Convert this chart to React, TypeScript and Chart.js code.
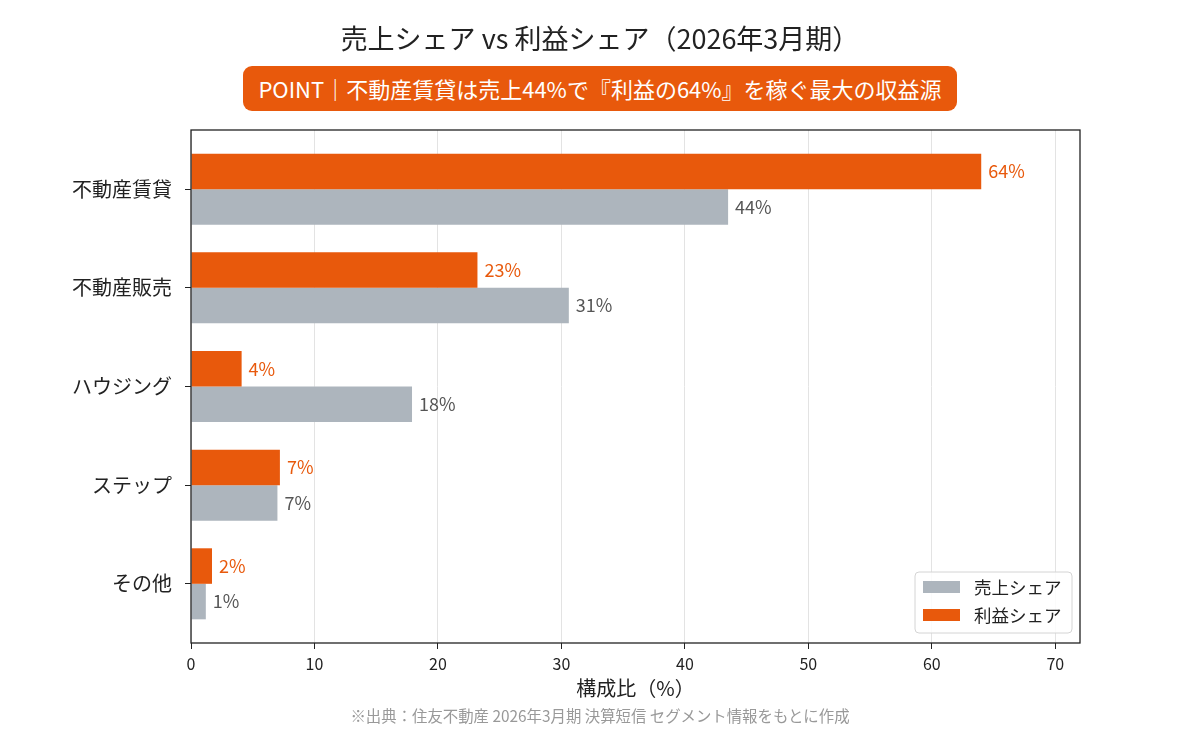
import { useEffect, useRef } from "react";
import { Chart, registerables } from "chart.js";

Chart.register(...registerables);

const FONT = '"Noto Sans CJK JP", "Noto Sans", sans-serif';

const categories = ["不動産賃貸", "不動産販売", "ハウジング", "ステップ", "その他"];
const salesShare = [43.5, 30.6, 17.9, 7.0, 1.2];
const profitShare = [64.0, 23.2, 4.1, 7.2, 1.7];
const seriesNames = ["利益シェア", "売上シェア"];
const xTickValues = [0, 10, 20, 30, 40, 50, 60, 70];

const titleText = "売上シェア vs 利益シェア（2026年3月期）";
const pointText = "POINT｜不動産賃貸は売上44%で『利益の64%』を稼ぐ最大の収益源";
const xTitle = "構成比（%）";
const sourceText = "※出典：住友不動産 2026年3月期 決算短信 セグメント情報をもとに作成";

const ORANGE = "#e8590c";
const GRAY = "#adb5bd";
const LABEL_COLORS = [ORANGE, "#555555"];

const framePlugin = {
  id: "frame",
  afterDatasetsDraw(chart: any) {
    const { ctx, chartArea } = chart;
    ctx.save();
    ctx.strokeStyle = "#222222";
    ctx.lineWidth = 1.3;
    ctx.strokeRect(chartArea.left, chartArea.top, chartArea.right - chartArea.left, chartArea.bottom - chartArea.top);
    ctx.restore();
  },
};

const valueLabelPlugin = {
  id: "valueLabels",
  afterDatasetsDraw(chart: any) {
    const { ctx } = chart;
    ctx.save();
    ctx.font = `18px ${FONT}`;
    ctx.textBaseline = "middle";
    ctx.textAlign = "left";
    chart.data.datasets.forEach((ds: any, di: number) => {
      const meta = chart.getDatasetMeta(di);
      ctx.fillStyle = LABEL_COLORS[di];
      meta.data.forEach((el: any, i: number) => {
        const v = ds.data[i].x;
        ctx.fillText(`${Math.round(v)}%`, el.x + 7, el.y);
      });
    });
    ctx.restore();
  },
};

const legendPlugin = {
  id: "cornerLegend",
  afterDraw(chart: any) {
    const { ctx, chartArea } = chart;
    const w = 157;
    const h = 61;
    const x = chartArea.right - 8 - w;
    const y = chartArea.bottom - 10 - h;
    ctx.save();
    ctx.beginPath();
    ctx.roundRect(x, y, w, h, 4);
    ctx.fillStyle = "rgba(255,255,255,0.85)";
    ctx.fill();
    ctx.strokeStyle = "#d4d4d4";
    ctx.lineWidth = 1;
    ctx.stroke();
    const order = [1, 0];
    ctx.font = `17.5px ${FONT}`;
    ctx.textBaseline = "middle";
    ctx.textAlign = "left";
    order.forEach((di, row) => {
      const ds = chart.data.datasets[di];
      const cy = y + 15 + row * 28;
      ctx.fillStyle = ds.backgroundColor;
      ctx.fillRect(x + 8, cy - 6, 37, 12);
      ctx.fillStyle = "#222222";
      ctx.fillText(ds.label, x + 59, cy);
    });
    ctx.restore();
  },
};

export default function App() {
  const canvasRef = useRef<HTMLCanvasElement | null>(null);

  useEffect(() => {
    document.body.style.margin = "0";
    const canvas = canvasRef.current;
    if (!canvas) return;
    const chart = new Chart(canvas, {
      type: "bar",
      data: {
        datasets: [
          {
            label: seriesNames[0],
            data: profitShare.map((v, i) => ({ x: v, y: i })),
            backgroundColor: ORANGE,
            borderWidth: 0,
          },
          {
            label: seriesNames[1],
            data: salesShare.map((v, i) => ({ x: v, y: i })),
            backgroundColor: GRAY,
            borderWidth: 0,
          },
        ],
      },
      options: {
        indexAxis: "y",
        animation: false,
        responsive: false,
        maintainAspectRatio: false,
        devicePixelRatio: 1,
        layout: { padding: { left: 0, right: 120, top: 130, bottom: 30 } },
        plugins: {
          legend: { display: false },
          tooltip: { enabled: false },
          title: { display: false },
        },
        datasets: {
          bar: { categoryPercentage: 0.72, barPercentage: 1.0 },
        },
        scales: {
          x: {
            type: "linear",
            position: "bottom",
            min: 0,
            max: 72,
            afterFit(scale: any) {
              scale.height = 57;
            },
            afterBuildTicks(scale: any) {
              scale.ticks = xTickValues.map((v) => ({ value: v }));
            },
            ticks: {
              font: { family: FONT, size: 16 },
              color: "#222222",
              padding: 5,
              includeBounds: false,
            },
            grid: {
              color: "#e3e3e3",
              lineWidth: 1,
              tickColor: "#222222",
              tickLength: 6,
              drawTicks: true,
            },
            border: { display: false },
            title: {
              display: true,
              text: xTitle,
              font: { family: FONT, size: 20 },
              color: "#222222",
              padding: { top: 0, bottom: 0 },
            },
          },
          y: {
            type: "linear",
            position: "left",
            reverse: true,
            offset: false,
            min: -0.6,
            max: 4.6,
            afterFit(scale: any) {
              scale.width = 191;
            },
            afterBuildTicks(scale: any) {
              scale.ticks = categories.map((_, i) => ({ value: i }));
            },
            ticks: {
              font: { family: FONT, size: 20 },
              color: "#222222",
              padding: 13,
              callback: (v: any) => categories[Number(v)] ?? "",
            },
            grid: {
              offset: false,
              drawOnChartArea: false,
              tickColor: "#222222",
              tickLength: 6,
            },
            border: { display: false },
          },
        },
      },
      plugins: [framePlugin, valueLabelPlugin, legendPlugin],
    } as any);
    return () => chart.destroy();
  }, []);

  return (
    <div style={{ position: "relative", width: 1200, height: 730, background: "#ffffff", fontFamily: FONT, overflow: "hidden" }}>
      <canvas ref={canvasRef} width={1200} height={730} style={{ position: "absolute", left: 0, top: 0, width: 1200, height: 730 }} />
      <div
        style={{
          position: "absolute",
          left: 0,
          top: 19,
          width: 1200,
          textAlign: "center",
          fontSize: 27,
          lineHeight: "38px",
          color: "#222222",
        }}
      >
        {titleText}
      </div>
      <div
        style={{
          position: "absolute",
          left: 243,
          top: 66,
          width: 714,
          height: 45,
          background: ORANGE,
          borderRadius: 9,
          color: "#ffffff",
          fontSize: 22,
          lineHeight: "45px",
          textAlign: "center",
          whiteSpace: "nowrap",
        }}
      >
        {pointText}
      </div>
      <div
        style={{
          position: "absolute",
          left: 0,
          top: 704,
          width: 1200,
          textAlign: "center",
          fontSize: 15.4,
          lineHeight: "22px",
          color: "#999999",
        }}
      >
        {sourceText}
      </div>
    </div>
  );
}
